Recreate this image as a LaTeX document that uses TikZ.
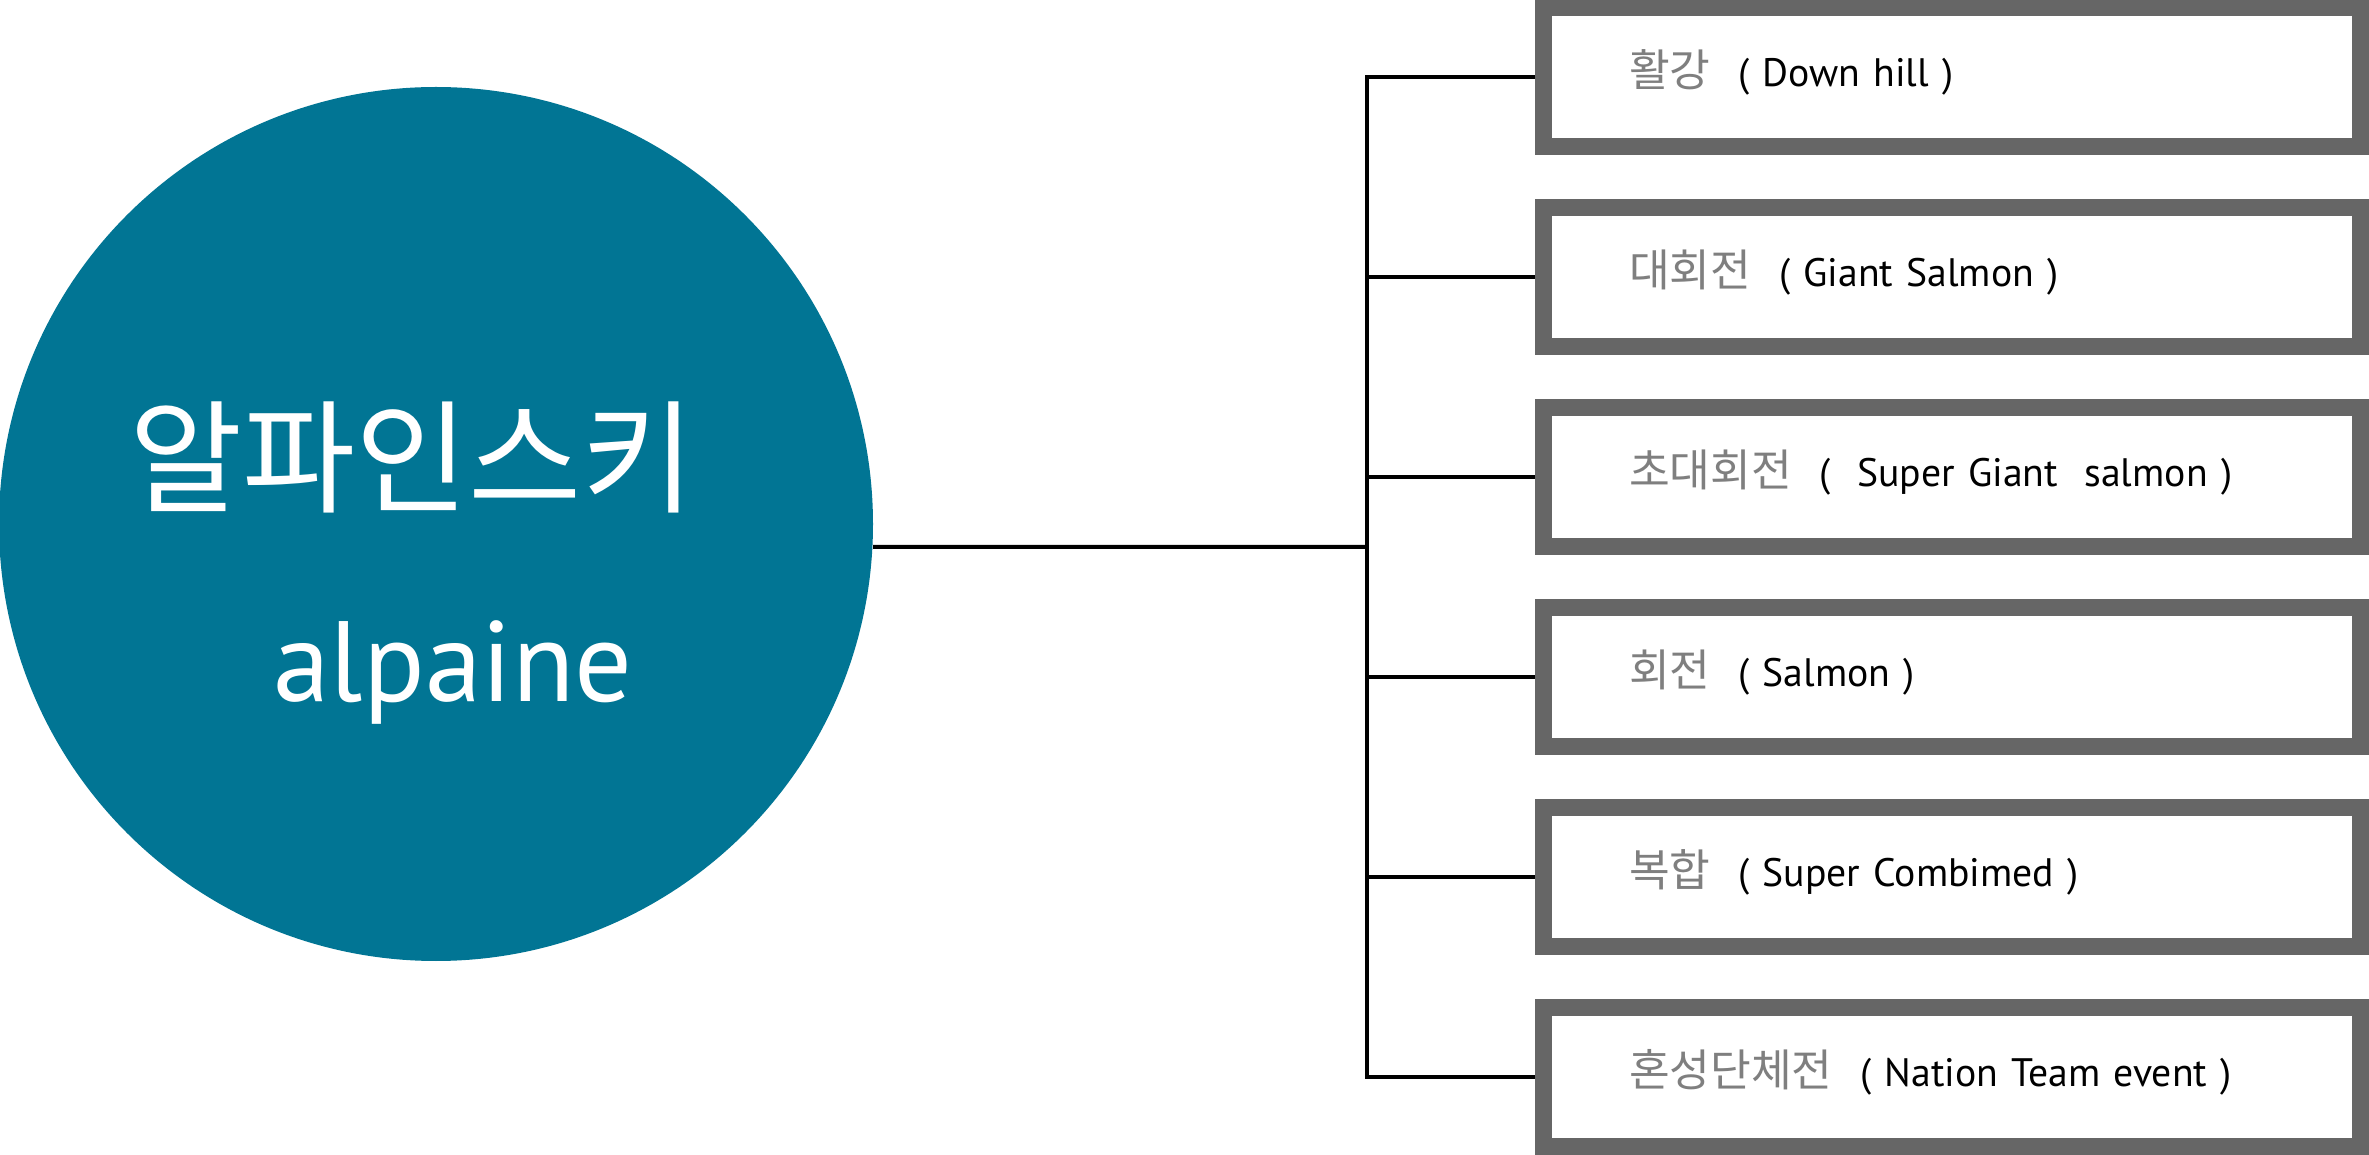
\documentclass[tikz,border=0pt]{standalone}
\usepackage{fontspec}
\setmainfont{PT Sans}
\newfontfamily\kr{Noto Sans CJK KR}
\usepackage{xcolor}
\usepackage{tikz}
\usetikzlibrary{calc,positioning}
\definecolor{discblue}{HTML}{017594}
\definecolor{frame}{HTML}{666666}
\definecolor{hangul}{HTML}{7F7F7F}
\tikzset{
  disc/.style={circle, fill=discblue, minimum size=8.74cm, inner sep=0pt},
  title/.style={text=white, inner sep=0pt},
  event/.style={draw=frame, line width=0.17cm, fill=white, text width=6.46cm, align=left,
    inner xsep=0.855cm, inner ysep=0pt, minimum height=1.39cm,
    text height=0.55em, text depth=0em, font=\fontsize{11.3}{14}\selectfont},
  link/.style={draw=black, line width=0.04cm},
}

\begin{document}
\begin{tikzpicture}
  \useasboundingbox (0,0) rectangle (23.69,11.54);
  \node[disc] (alpine) at (4.36,6.30) {};
  \node[title, font=\kr\fontsize{35}{38}\selectfont] (alpineKr) at ($(alpine.center)+(-0.24,0.67)$) {알파인스키};
  \node[title, anchor=base, font=\fontsize{32.5}{36}\selectfont] (alpineEn) at ($(alpine.center)+(0.17,-1.78)$) {alpaine};
  % events
  \foreach \kor/\eng [count=\i] in {활강/( Down hill ), 대회전/( Giant Salmon ),
      초대회전/(~ Super Giant~ salmon ), 회전/( Salmon ), 복합/( Super Combimed ),
      혼성단체전/( Nation Team event )}
    \node[event] (b\i) at (19.52,12.77-2*\i) {{\kr\fontsize{12.6}{14}\selectfont\color{hangul}\kor}\hspace{0.7em}\eng};
  \coordinate (fork) at (13.67,6.07);
  \draw[link] (alpine.-3) -- (fork);
  \draw[link] (b1.west) -- (b1.west -| fork) -- (b6.west -| fork) -- (b6.west);
  \foreach \i in {2,...,5}
    \draw[link] (b\i.west -| fork) -- (b\i.west);
\end{tikzpicture}
\end{document}
